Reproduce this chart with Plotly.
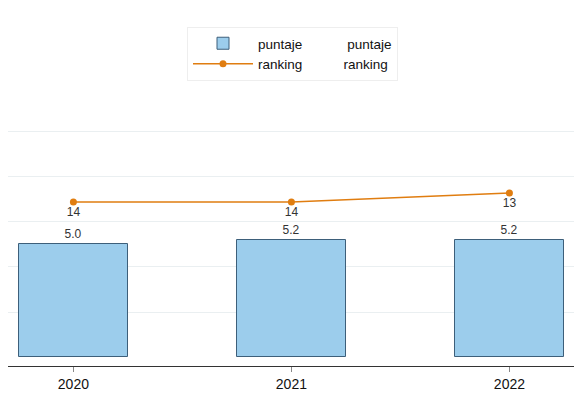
import plotly.graph_objects as go

# data
years = ["2020", "2021", "2022"]
puntaje = [5.0, 5.2, 5.2]
ranking = [14, 14, 13]

x_pos = list(range(len(years)))
font_family = "Liberation Sans, Arial, sans-serif"
nb = "\u00a0"

fig = go.Figure()

# Bars (left axis)
fig.add_trace(
    go.Bar(
        name="puntaje" + nb * 12 + "puntaje",
        x=x_pos,
        y=puntaje,
        width=0.5,
        marker=dict(color="#9ccdec", line=dict(color="#3d5f7a", width=1)),
        text=[f"{v:.1f}" for v in puntaje],
        textposition="outside",
        textfont=dict(size=12, color="#333333"),
        cliponaxis=False,
    ))

# Ranking line (right axis, reversed)
fig.add_trace(
    go.Scatter(
        name="ranking" + nb * 11 + "ranking",
        x=x_pos,
        y=ranking,
        yaxis="y2",
        mode="lines+markers+text",
        line=dict(color="#e07d10", width=1.5),
        marker=dict(color="#e07d10", size=7),
        text=[str(v) for v in ranking],
        textposition="bottom center",
        textfont=dict(size=12, color="#333333"),
    ))

# the page body adds 8px around the figure, so the figure is 8px smaller
fig.update_layout(
    width=574,
    height=411,
    margin=dict(l=0, r=5, t=0, b=53),
    paper_bgcolor="white",
    plot_bgcolor="white",
    font=dict(family=font_family, size=13, color="#222222"),
    bargap=0,
    showlegend=True,
    legend=dict(
        x=0.5, xanchor="center",
        y=0.947, yanchor="top",
        bgcolor="white",
        bordercolor="#eeeeee",
        borderwidth=1,
        font=dict(size=13.5, color="#111111"),
        tracegroupgap=0,
        itemwidth=60,
    ),
    xaxis=dict(
        range=[-0.30, 2.31],
        tickvals=x_pos,
        ticktext=years,
        showline=True, linecolor="#333333", linewidth=1,
        ticks="outside", ticklen=5, tickcolor="#888888",
        showgrid=False, zeroline=False,
        tickfont=dict(size=14, color="#111111"),
    ),
    yaxis=dict(
        range=[-0.4, 15.51],
        tickvals=[2, 4, 6, 8, 10],
        showticklabels=False,
        showgrid=True, gridcolor="#eaeff1", gridwidth=1,
        zeroline=False, showline=False,
    ),
    yaxis2=dict(
        overlaying="y",
        side="right",
        range=[32.22, -7.56],
        showticklabels=False,
        showgrid=False, zeroline=False, showline=False,
    ),
)

fig.write_html("out.html")
